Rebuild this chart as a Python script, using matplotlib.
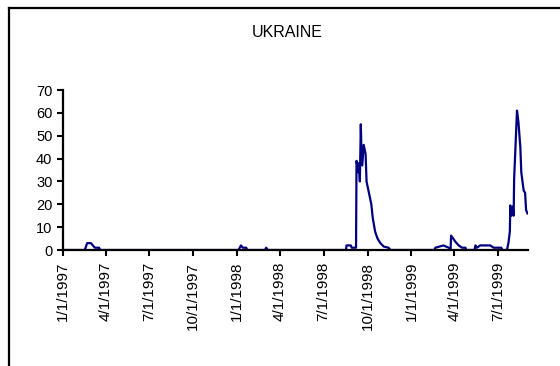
import matplotlib
matplotlib.use("Agg")
import matplotlib.pyplot as plt
import matplotlib.dates as mdates
from matplotlib.lines import Line2D
from matplotlib.ticker import FuncFormatter
import pandas as pd

plt.rcParams['font.family'] = ['Liberation Sans', 'DejaVu Sans']

# values (breakpoints of the line)
dates = [
    "1997-01-01", "1997-02-16", "1997-02-21", "1997-03-01", "1997-03-09",
    "1997-03-18", "1997-03-20",
    "1998-01-04", "1998-01-09", "1998-01-13", "1998-01-20", "1998-01-22",
    "1998-02-28", "1998-03-03", "1998-03-06",
    "1998-08-17", "1998-08-18", "1998-08-27", "1998-08-29", "1998-09-07",
    "1998-09-08", "1998-09-12", "1998-09-13", "1998-09-15", "1998-09-17",
    "1998-09-18", "1998-09-20", "1998-09-23", "1998-09-27", "1998-09-29",
    "1998-10-05", "1998-10-09", "1998-10-12", "1998-10-17", "1998-10-22",
    "1998-10-28", "1998-11-04", "1998-11-14", "1998-11-18",
    "1999-02-18", "1999-02-20", "1999-03-09", "1999-03-20", "1999-03-24",
    "1999-03-25", "1999-04-03", "1999-04-10", "1999-04-17", "1999-04-24",
    "1999-04-26",
    "1999-05-13", "1999-05-15", "1999-05-18", "1999-05-25", "1999-06-15",
    "1999-06-22", "1999-07-08", "1999-07-10", "1999-07-20", "1999-07-23",
    "1999-07-26", "1999-07-27", "1999-07-29", "1999-08-01", "1999-08-03",
    "1999-08-04", "1999-08-10", "1999-08-13", "1999-08-17", "1999-08-19",
    "1999-08-24", "1999-08-27", "1999-08-29", "1999-09-01",
]
values = [
    0, 0, 3, 3, 1,
    1, 0,
    0, 2, 1, 1, 0,
    0, 1, 0,
    0, 2, 2, 1, 1,
    39, 34, 38, 30, 55,
    46, 37, 46, 42, 30,
    24, 20, 14, 8, 5,
    3, 1.5, 1, 0,
    0, 1, 2, 1, 0.5,
    6.3, 3.6, 2, 1, 1,
    0,
    0, 2, 1, 2, 2,
    1, 1, 0, 0, 3,
    8, 19.5, 15, 19, 15,
    31, 61, 56, 45, 34,
    26, 25, 17.5, 16,
]

title = "UKRAINE"
yticks = [0, 10, 20, 30, 40, 50, 60, 70]

W, H = 560, 366
fig = plt.figure(figsize=(W / 100, H / 100), dpi=100)
ax = fig.add_axes([62.8 / W, (H - 250) / H, 464.7 / W, 160 / H])

x = pd.to_datetime(dates)
ax.plot(x, values, color='#000080', lw=1.6, zorder=2)

ax.set_xlim(pd.Timestamp("1997-01-01"), pd.Timestamp("1999-09-01"))
ax.set_ylim(0, 70)
ax.set_yticks(yticks)

ax.xaxis.set_major_locator(mdates.MonthLocator(bymonth=[1, 4, 7, 10]))
ax.xaxis.set_major_formatter(FuncFormatter(
    lambda v, pos: "{d.month}/{d.day}/{d.year}".format(d=mdates.num2date(v))))

for s in ['top', 'right']:
    ax.spines[s].set_visible(False)
for s in ['left', 'bottom']:
    ax.spines[s].set_linewidth(1.6)
    ax.spines[s].set_color('black')

ax.tick_params(axis='y', direction='out', length=4, width=1.5,
               labelsize=10.5, pad=3.5)
ax.tick_params(axis='x', direction='out', length=4.5, width=1.5,
               labelsize=11, pad=4, labelrotation=90)

fig.text(287 / W, (H - 32.5) / H, title, ha='center', va='center',
         fontsize=11.5)

# outer frame (only left and top edges fall inside the picture)
fig.add_artist(Line2D([9 / W, 9 / W], [0, 1 - 8 / H], color='black', lw=1.6,
                      transform=fig.transFigure))
fig.add_artist(Line2D([9 / W, 1], [1 - 8 / H, 1 - 8 / H], color='black',
                      lw=1.6, transform=fig.transFigure))

fig.savefig("out.png", dpi=100)
